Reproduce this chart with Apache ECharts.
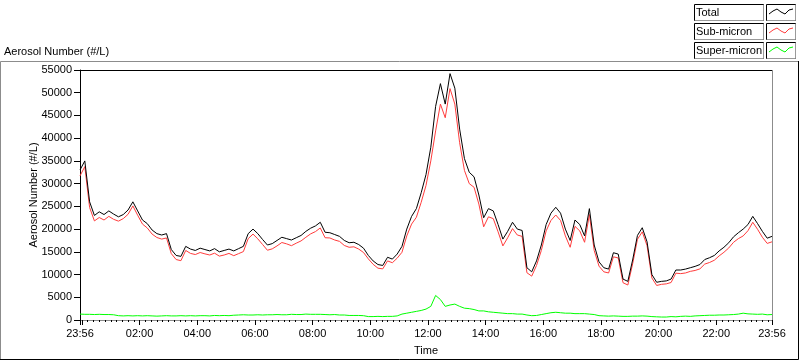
<!DOCTYPE html>
<html>
<head>
<meta charset="utf-8">
<script src="https://cdn.jsdelivr.net/npm/echarts@6/dist/echarts.min.js"></script>
<style>
  html, body { margin: 0; padding: 0; background: #fff; }
  #chart { width: 800px; height: 361px; }
</style>
</head>
<body>
<div id="chart"></div>
<script>
// samples every 10 min starting 23:56
const stepMin = 10;
const startClock = 23 * 60 + 56;

const total = [
  33000, 35000, 26000, 23000, 23800, 23200, 24000, 23300, 22700, 23200,
  24200, 26000, 24000, 22000, 21200, 19800, 19000, 18700, 19000, 15500,
  14200, 14000, 16200, 15600, 15300, 15800, 15500, 15200, 15700, 15000,
  15300, 15600, 15200, 15700, 16200, 19000, 20000, 19000, 17700, 16500,
  16800, 17500, 18200, 17900, 17600, 18100, 18600, 19500, 20200, 20700,
  21500, 19300, 19200, 18800, 18400, 17500, 17000, 17100, 16600, 15800,
  14200, 13000, 12200, 12000, 13800, 13400, 14500, 16200, 20000, 22800,
  24500, 28000, 32000, 38000, 47000, 52000, 47500, 54200, 51000, 42000,
  35500, 32500, 31500, 27500, 22500, 24500, 24000, 21000, 17800, 19500,
  21500, 20000, 19700, 11500, 10600, 13000, 16500, 21000, 23500, 24800,
  23500, 20000, 17500, 22000, 21000, 18500, 24500, 16500, 12800, 11500,
  11200, 14800, 14500, 9000, 8500, 13200, 18600, 20300, 17200, 10000,
  8300, 8500, 8600, 9000, 11000, 11000, 11200, 11500, 11800, 12200,
  13300, 13700, 14200, 15200, 16000, 17000, 18300, 19200, 20000, 21000,
  22800, 21200, 19500, 18000, 18400
];

const subMicron = [
  31700, 33750, 24750, 21800, 22550, 22000, 22800, 22150, 21750, 22300,
  23250, 25100, 23050, 21100, 20250, 18900, 18150, 17800, 18050, 14600,
  13300, 13050, 15300, 14650, 14400, 14850, 14550, 14300, 14700, 14050,
  14300, 14650, 14150, 14600, 15050, 17900, 18900, 17850, 16600, 15350,
  15650, 16300, 17050, 16750, 16350, 16900, 17400, 18200, 18950, 19450,
  20250, 18100, 18050, 17600, 17300, 16400, 16000, 16100, 15600, 14850,
  13450, 12250, 11400, 11250, 13000, 12600, 13600, 14900, 18500, 21100,
  22600, 25900, 29600, 35000, 41600, 47500, 44500, 50900, 47500, 39000,
  32900, 30000, 29200, 25500, 20500, 22700, 22300, 19400, 16300, 18100,
  20100, 18700, 18400, 10400, 9650, 12000, 15300, 19600, 21900, 23100,
  21900, 18500, 16000, 20600, 19600, 17100, 23200, 15300, 11850, 10600,
  10350, 13900, 13650, 8200, 7700, 12350, 17750, 19400, 16350, 9250,
  7600, 7850, 7950, 8250, 10300, 10200, 10350, 10700, 10900, 11250,
  12300, 12650, 13150, 14100, 14900, 15850, 17100, 17900, 18500, 19650,
  21500, 19950, 18200, 16850, 17200
];

const superMicron = [
  1300, 1250, 1250, 1200, 1250, 1200, 1200, 1150, 950, 900,
  950, 900, 950, 900, 950, 900, 850, 900, 950, 900,
  900, 950, 900, 950, 900, 950, 950, 900, 1000, 950,
  1000, 950, 1050, 1100, 1150, 1100, 1100, 1150, 1100, 1150,
  1150, 1200, 1150, 1150, 1250, 1200, 1200, 1300, 1250, 1250,
  1250, 1200, 1150, 1200, 1100, 1100, 1000, 1000, 1000, 950,
  750, 750, 800, 750, 800, 800, 900, 1300, 1500, 1700,
  1900, 2100, 2400, 3000, 5400, 4500, 3000, 3300, 3500, 3000,
  2600, 2500, 2300, 2000, 2000, 1800, 1700, 1600, 1500, 1400,
  1400, 1300, 1300, 1100, 950, 1000, 1200, 1400, 1600, 1700,
  1600, 1500, 1500, 1400, 1400, 1400, 1300, 1200, 950, 900,
  850, 900, 850, 800, 800, 850, 850, 900, 850, 750,
  700, 650, 650, 750, 700, 800, 850, 800, 900, 950,
  1000, 1050, 1050, 1100, 1100, 1150, 1200, 1300, 1500, 1350,
  1300, 1250, 1300, 1150, 1200
];

const yTicks = [0, 5000, 10000, 15000, 20000, 25000, 30000, 35000, 40000, 45000, 50000, 55000];
const timeLabels = ['23:56', '02:00', '04:00', '06:00', '08:00', '10:00', '12:00',
  '14:00', '16:00', '18:00', '20:00', '22:00', '23:56'];
const seriesNames = ['Total', 'Sub-micron', 'Super-micron'];
const seriesColors = ['#000000', '#ff3c3c', '#00ff00'];

// minutes since start of record for a clock label
function offsetOf(label, i) {
  if (i === 0) return 0;
  if (i === timeLabels.length - 1) return 1440;
  const [h, m] = label.split(':').map(Number);
  return ((h * 60 + m) - startClock + 1440) % 1440;
}
const labelOffsets = timeLabels.map(offsetOf);
const clockOf = {};
labelOffsets.forEach((v, i) => { clockOf[v] = timeLabels[i]; });

// 12 minute ticks on the clock, plus the start tick
const minorTicks = [0];
for (let t = 4; t <= 1440; t += 12) minorTicks.push(t);
const majorTicks = [0, 4].concat(labelOffsets.slice(1));

const pairs = arr => arr.map((v, i) => [i * stepMin, v]);

const font = 'Liberation Sans, Arial, sans-serif';
const chart = echarts.init(document.getElementById('chart'), null, { renderer: 'canvas' });

const xBase = {
  type: 'value', min: 0, max: 1440, position: 'bottom',
  splitLine: { show: false }
};

// legend boxes, LabVIEW style
const legendGraphics = [];
seriesNames.forEach((name, r) => {
  const y0 = 4 + r * 19;
  legendGraphics.push(
    { type: 'rect', shape: { x: 694.5, y: y0 + 0.5, width: 69, height: 16 },
      style: { fill: '#fff', stroke: '#000', lineWidth: 1 } },
    { type: 'polyline', shape: { points: [[695, y0 + 16.5], [763.5, y0 + 16.5], [763.5, y0 + 1]] },
      style: { stroke: '#9a9a9a', lineWidth: 1, fill: null } },
    { type: 'text', x: 696, y: y0 + 9,
      style: { text: name, fill: '#000', font: '11px ' + font, textVerticalAlign: 'middle' } },
    { type: 'rect', shape: { x: 766.5, y: y0 + 0.5, width: 29, height: 16 },
      style: { fill: '#fff', stroke: '#000', lineWidth: 1 } },
    { type: 'polyline', shape: { points: [[767, y0 + 16.5], [795.5, y0 + 16.5], [795.5, y0 + 1]] },
      style: { stroke: '#9a9a9a', lineWidth: 1, fill: null } },
    { type: 'polyline', shape: { points: [[769, y0 + 10], [773, y0 + 7], [777, y0 + 5], [781, y0 + 8], [785, y0 + 10], [789, y0 + 6], [793, y0 + 5]] },
      style: { stroke: seriesColors[r], lineWidth: 1, fill: null } }
  );
});

const option = {
  animation: false,
  backgroundColor: '#ffffff',
  grid: { left: 80, right: 28, top: 70, bottom: 38, containLabel: false },
  xAxis: [
    Object.assign({}, xBase, {
      name: 'Time', nameLocation: 'middle', nameGap: 25,
      nameTextStyle: { color: '#000', fontSize: 11, fontFamily: font },
      axisLine: { show: true, lineStyle: { color: '#8c8c8c', width: 1 } },
      axisTick: { show: true, length: 5, customValues: majorTicks, lineStyle: { color: '#000' } },
      axisLabel: {
        show: true, customValues: labelOffsets, margin: 8,
        color: '#000', fontSize: 11, fontFamily: font,
        formatter: v => clockOf[v] || ''
      }
    }),
    Object.assign({}, xBase, {
      axisLine: { show: false },
      axisTick: { show: true, length: 2, customValues: minorTicks, lineStyle: { color: '#000' } },
      axisLabel: { show: false }
    })
  ],
  yAxis: {
    type: 'value', min: 0, max: 55000, interval: 5000,
    name: 'Aerosol Number (#/L)', nameLocation: 'middle', nameGap: 41, nameRotate: 90,
    nameMoveOverlap: false,
    nameTextStyle: { color: '#000', fontSize: 11, fontFamily: font },
    axisLine: { show: true, lineStyle: { color: '#000', width: 1 } },
    axisTick: { show: true, length: 6, lineStyle: { color: '#000' } },
    axisLabel: { color: '#000', fontSize: 11, fontFamily: font, margin: 8,
      formatter: v => (yTicks.indexOf(v) >= 0 ? String(v) : '') },
    splitLine: { show: false }
  },
  series: [
    { name: 'Super-micron', type: 'line', data: pairs(superMicron), showSymbol: false,
      lineStyle: { color: seriesColors[2], width: 1 }, z: 2 },
    { name: 'Sub-micron', type: 'line', data: pairs(subMicron), showSymbol: false,
      lineStyle: { color: seriesColors[1], width: 1 }, z: 3 },
    { name: 'Total', type: 'line', data: pairs(total), showSymbol: false,
      lineStyle: { color: seriesColors[0], width: 1 }, z: 4 }
  ],
  graphic: [
    // outer frame
    { type: 'polyline', shape: { points: [[0.5, 360], [0.5, 61.5], [799, 61.5]] },
      style: { stroke: '#8c8c8c', lineWidth: 1, fill: null } },
    { type: 'polyline', shape: { points: [[0, 359.5], [798.5, 359.5], [798.5, 61]] },
      style: { stroke: '#000', lineWidth: 1, fill: null } },
    // plot frame: top black, right grey
    { type: 'line', shape: { x1: 80, y1: 70.5, x2: 772, y2: 70.5 },
      style: { stroke: '#000', lineWidth: 1 } },
    { type: 'line', shape: { x1: 772.5, y1: 70, x2: 772.5, y2: 323 },
      style: { stroke: '#8c8c8c', lineWidth: 1 } },
    { type: 'text', x: 4, y: 52,
      style: { text: 'Aerosol Number (#/L)', fill: '#000', font: '11px ' + font, textVerticalAlign: 'middle' } }
  ].concat(legendGraphics)
};

chart.setOption(option);
</script>
</body>
</html>
